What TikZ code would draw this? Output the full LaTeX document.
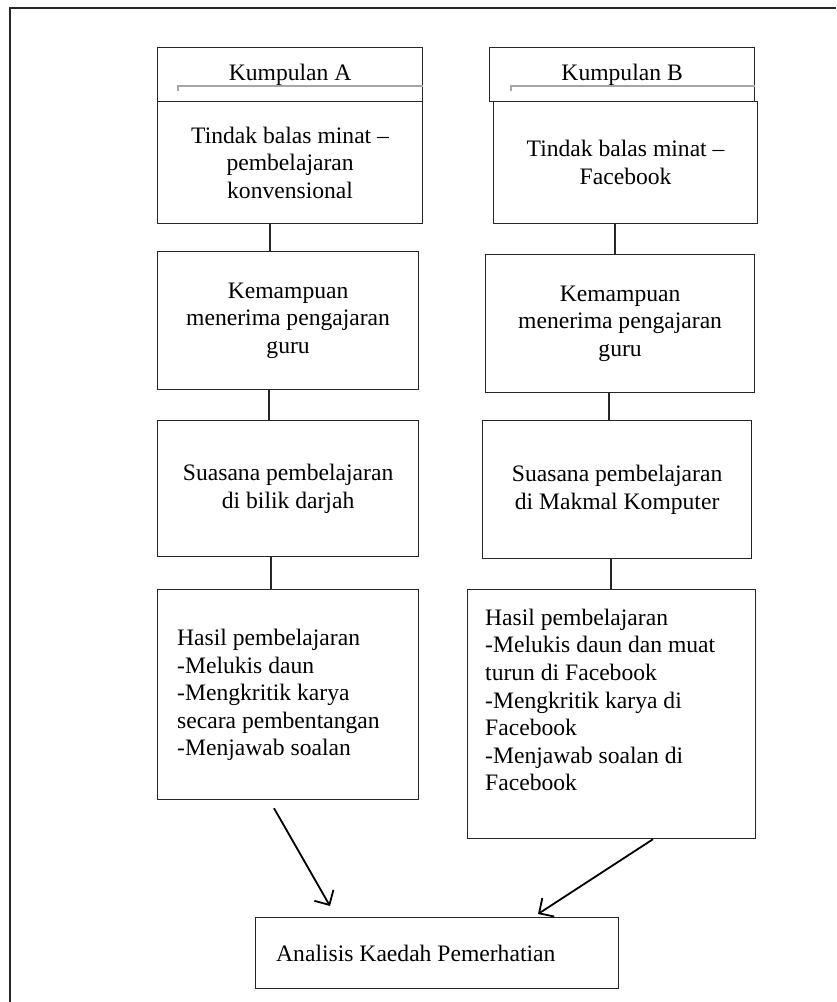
\documentclass[tikz,border=0pt]{standalone}
\usepackage{fontspec}
\setmainfont{Liberation Serif}
\usetikzlibrary{arrows.meta,calc}
\begin{document}
\begin{tikzpicture}[x=1pt,y=-1pt,
  box/.style={draw=black!85,line width=1.2pt,rectangle,inner sep=0pt,anchor=north west,align=center,
    font=\fontsize{23.6}{27.6}\selectfont},
  txt/.style={inner sep=0pt,align=left,font=\fontsize{23.6}{27.6}\selectfont},
  link/.style={draw=black!85,line width=1.2pt},
  arr/.style={draw=black,line width=1.8pt,-{Straight Barb[length=11pt,width=22pt,line width=1.8pt]}},
  hmark/.style={draw=gray!70,line width=1.3pt}]
\useasboundingbox (0,0) rectangle (836,1002);
\draw[line width=1.3pt,draw=black!85] (836,8) -- (10,8) -- (10,1002);
% column A
\node[box,minimum width=265pt,minimum height=54pt] (ha) at (157,47) {\raisebox{2pt}{Kumpulan A}};
\draw[hmark] (178,91) -- (178,86) -- (ha.east|-0,86);
\node[box,minimum width=265pt,minimum height=122pt] (a1) at (157,101) {Tindak balas minat --\\pembelajaran\\konvensional};
\node[box,minimum width=261pt,minimum height=138pt] (a2) at (157,251) {Kemampuan\\menerima pengajaran\\guru};
\node[box,minimum width=261pt,minimum height=136pt] (a3) at (157,420) {Suasana pembelajaran\\di bilik darjah};
\node[box,minimum width=261pt,minimum height=210pt] (a4) at (157,589) {};
\node[txt,anchor=west] (a4t) at (177,695) {Hasil pembelajaran\\-Melukis daun\\-Mengkritik karya\\secara pembentangan\\-Menjawab soalan};
% column B
\node[box,minimum width=265pt,minimum height=54pt] (hb) at (489,47) {\raisebox{2pt}{Kumpulan B}};
\draw[hmark] (511,91) -- (511,86) -- (hb.east|-0,86);
\node[box,minimum width=264pt,minimum height=122pt] (b1) at (493,101) {Tindak balas minat --\\Facebook};
\node[box,minimum width=269pt,minimum height=138pt] (b2) at (485,254) {Kemampuan\\menerima pengajaran\\guru};
\node[box,minimum width=269pt,minimum height=138pt] (b3) at (482,420) {Suasana pembelajaran\\di Makmal Komputer};
\node[box,minimum width=288pt,minimum height=249pt] (b4) at (467,589) {};
\node[txt,anchor=west] (b4t) at (485,700) {Hasil pembelajaran\\-Melukis daun dan muat\\turun di Facebook\\-Mengkritik karya di\\Facebook\\-Menjawab soalan di\\Facebook};
% final
\node[box,minimum width=363pt,minimum height=71pt] (fin) at (255,917) {};
\node[txt,anchor=west] (fint) at (276,953) {Analisis Kaedah Pemerhatian};
% connectors
\draw[link] (a1.south west) ++(113,0) coordinate (c1) -- (c1|-a2.north);
\draw[link] (a2.south west) ++(112,0) coordinate (c2) -- (c2|-a3.north);
\draw[link] (a3.south west) ++(114,0) coordinate (c3) -- (c3|-a4.north);
\draw[link] (b1.south west) ++(122,0) coordinate (d1) -- (d1|-b2.north);
\draw[link] (b2.south west) ++(124,0) coordinate (d2) -- (d2|-b3.north);
\draw[link] (b3.south west) ++(129,0) coordinate (d3) -- (d3|-b4.north);
\draw[arr] ($(a4.south west)+(117,8)$) -- ($(fin.north west)+(75,-11)$);
\draw[arr] ($(b4.south west)+(186,0)$) -- ($(fin.north west)+(283,-3)$);
\end{tikzpicture}
\end{document}
